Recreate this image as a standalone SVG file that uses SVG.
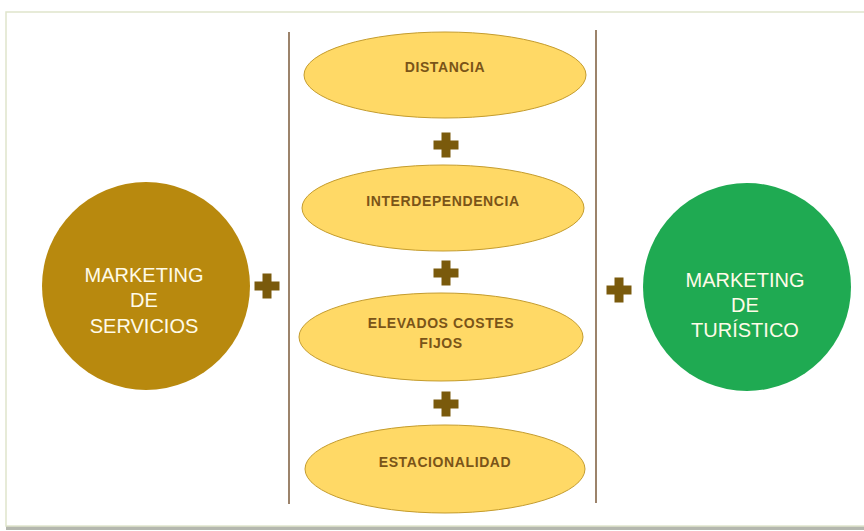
<svg xmlns="http://www.w3.org/2000/svg" width="864" height="531" viewBox="0 0 864 531">
<style>
.frame{fill:#ffffff;stroke:#dfe5cc;stroke-width:1.5}
.ell{fill:#ffd966;stroke:#c49c2e;stroke-width:1}
.et{font-family:"Liberation Sans",Arial,sans-serif;font-size:14px;font-weight:bold;fill:#7a5418;letter-spacing:0.6px;text-anchor:middle}
.ct{font-family:"Liberation Sans",Arial,sans-serif;font-size:20px;fill:#fffbe8;text-anchor:middle}
.vl{stroke:#7b5a3a;stroke-width:1.5}
.plus{fill:#7a5a0c}
</style>
<defs>
<path id="plus" d="M-4.5,-12.5 H4.5 V-4.5 H12.5 V4.5 H4.5 V12.5 H-4.5 V4.5 H-12.5 V-4.5 H-4.5 Z"/>
</defs>
<rect x="6" y="526" width="870" height="4" fill="#b4b7ae"/>
<rect class="frame" x="6" y="12" width="870" height="514"/>
<g id="connectors">
<line class="vl" x1="289" y1="32" x2="289" y2="504"/>
<line class="vl" x1="596" y1="30" x2="596" y2="503"/>
<use href="#plus" class="plus" x="446" y="145"/>
<use href="#plus" class="plus" x="446" y="273"/>
<use href="#plus" class="plus" x="446" y="404"/>
<use href="#plus" class="plus" x="267" y="286"/>
<use href="#plus" class="plus" x="619" y="290"/>
</g>
<g id="servicios">
<circle cx="146" cy="286" r="104" fill="#b8890e"/>
<text class="ct" x="144" y="282">MARKETING</text>
<text class="ct" x="144" y="307">DE</text>
<text class="ct" x="144" y="333">SERVICIOS</text>
</g>
<g id="turistico">
<circle cx="747" cy="287" r="104" fill="#1faa52"/>
<text class="ct" x="745" y="287">MARKETING</text>
<text class="ct" x="745" y="312">DE</text>
<text class="ct" x="745" y="337">TURÍSTICO</text>
</g>
<g id="distancia">
<ellipse class="ell" cx="445" cy="75" rx="141" ry="43"/>
<text class="et" x="445" y="72">DISTANCIA</text>
</g>
<g id="interdependencia">
<ellipse class="ell" cx="443" cy="208" rx="141" ry="43"/>
<text class="et" x="443" y="206">INTERDEPENDENCIA</text>
</g>
<g id="costes">
<ellipse class="ell" cx="441" cy="337" rx="142" ry="44"/>
<text class="et" x="441" y="328">ELEVADOS COSTES</text>
<text class="et" x="441" y="348">FIJOS</text>
</g>
<g id="estacionalidad">
<ellipse class="ell" cx="445" cy="469" rx="140" ry="44"/>
<text class="et" x="445" y="467">ESTACIONALIDAD</text>
</g>
</svg>
